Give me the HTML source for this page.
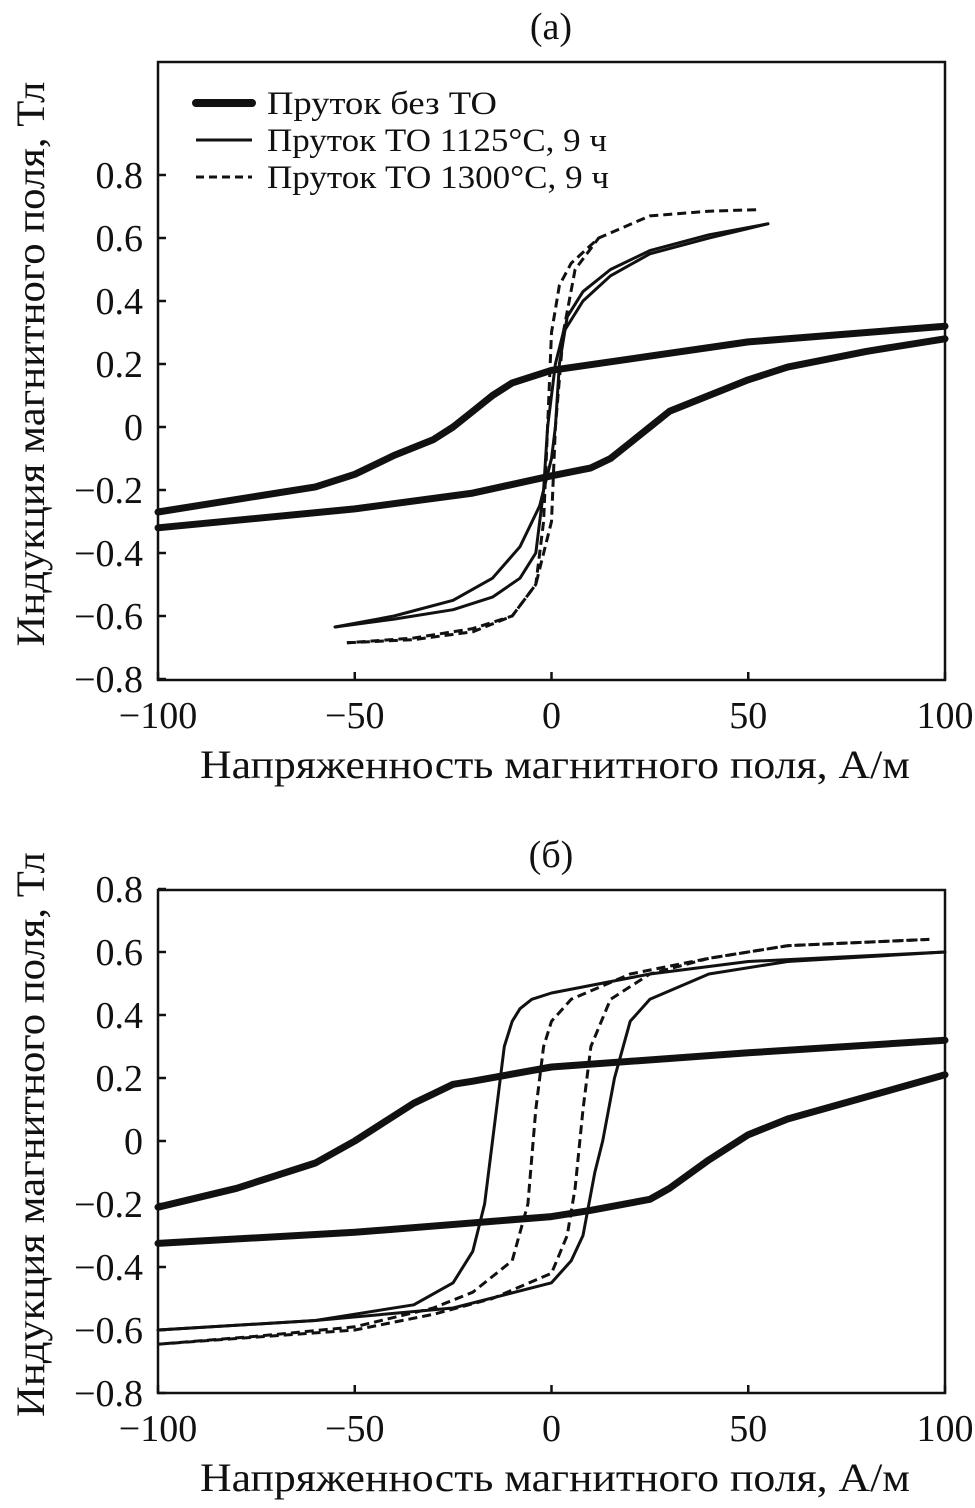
<!DOCTYPE html>
<html><head><meta charset="utf-8"><style>
body{margin:0;background:#fff}
svg text{font-family:"Liberation Serif",serif;fill:#111}
</style></head><body>
<svg id="c" width="975" height="1503" viewBox="0 0 975 1503" xmlns="http://www.w3.org/2000/svg"></svg>
<script>
const xTicks=[-100,-50,0,50,100];
const yTicks=[0.8,0.6,0.4,0.2,0,-0.2,-0.4,-0.6,-0.8];
const yTickLabels=["0.8","0.6","0.4","0.2","0","\u22120.2","\u22120.4","\u22120.6","\u22120.8"];
const xTickLabels=["\u2212100","\u221250","0","50","100"];
const legendLabels=["Пруток без ТО","Пруток ТО 1125°C, 9 ч","Пруток ТО 1300°C, 9 ч"];
// Panel (a)
const aNoTO=[[100,0.32],[50,0.27],[0,0.18],[-10,0.14],[-15,0.10],[-20,0.05],[-25,0.0],[-30,-0.04],[-40,-0.09],[-50,-0.15],[-60,-0.19],[-80,-0.23],[-100,-0.27]];
const aNoTOLow=[[-100,-0.32],[-50,-0.26],[-20,-0.21],[0,-0.155],[10,-0.13],[15,-0.10],[20,-0.05],[25,0.0],[30,0.05],[40,0.10],[50,0.15],[60,0.19],[80,0.24],[100,0.28]];
const a1125=[[55,0.645],[40,0.6],[25,0.55],[15,0.48],[8,0.4],[3,0.3],[1,0.2],[0,0.1],[-1,0],[-2,-0.2],[-4,-0.4],[-8,-0.48],[-15,-0.54],[-25,-0.58],[-40,-0.61],[-55,-0.635]];
const a1125Low=[[-55,-0.635],[-40,-0.6],[-25,-0.55],[-15,-0.48],[-8,-0.38],[-3,-0.25],[0,-0.1],[1,0],[2,0.2],[4,0.35],[8,0.43],[15,0.5],[25,0.56],[40,0.61],[55,0.645]];
const a1300=[[52,0.69],[40,0.685],[25,0.67],[12,0.6],[5,0.52],[2,0.45],[0,0.3],[-1,0],[-2,-0.3],[-4,-0.5],[-10,-0.6],[-20,-0.64],[-35,-0.67],[-52,-0.685]];
const a1300Low=[[-52,-0.685],[-35,-0.675],[-20,-0.65],[-10,-0.6],[-4,-0.5],[0,-0.3],[1,0],[3,0.3],[6,0.5],[12,0.6]];
// Panel (b)
const bNoTO=[[100,0.32],[50,0.28],[0,0.235],[-20,0.19],[-25,0.18],[-30,0.15],[-35,0.12],[-40,0.08],[-50,0.0],[-60,-0.07],[-80,-0.15],[-100,-0.21]];
const bNoTOLow=[[-100,-0.325],[-50,-0.29],[0,-0.24],[10,-0.22],[25,-0.185],[30,-0.15],[40,-0.06],[50,0.02],[60,0.07],[80,0.14],[100,0.21]];
const b1125=[[100,0.6],[50,0.57],[25,0.53],[0,0.47],[-5,0.45],[-8,0.42],[-10,0.38],[-12,0.3],[-15,0.0],[-17,-0.2],[-20,-0.35],[-25,-0.45],[-35,-0.52],[-60,-0.57],[-100,-0.6]];
const b1125Low=[[-100,-0.6],[-60,-0.57],[-25,-0.53],[0,-0.45],[5,-0.38],[8,-0.3],[11,-0.1],[13,0.0],[16,0.2],[20,0.38],[25,0.45],[40,0.53],[60,0.57],[100,0.6]];
const b1300=[[96,0.64],[60,0.62],[40,0.58],[20,0.53],[5,0.45],[0,0.38],[-2,0.3],[-4,0.1],[-6,-0.2],[-10,-0.38],[-20,-0.48],[-30,-0.53],[-50,-0.59],[-75,-0.62],[-100,-0.645]];
const b1300Low=[[-100,-0.645],[-50,-0.6],[-30,-0.55],[-15,-0.5],[0,-0.42],[4,-0.3],[6,-0.15],[8,0.1],[10,0.3],[15,0.45],[25,0.53],[40,0.58],[60,0.62],[96,0.64]];

const svg=document.getElementById('c');
const NS='http://www.w3.org/2000/svg';
function mk(tag,attrs,parent){const e=document.createElementNS(NS,tag);for(const k in attrs)e.setAttribute(k,attrs[k]);(parent||svg).appendChild(e);return e;}
const X0=158,X1=945;
function xs(v){return X0+(v+100)/200*(X1-X0);}
function panel(key,title,top,zeroY,bottomY,series){
  const ys=v=>zeroY-v*315;
  const g=mk('g',{});
  
  
  const t=mk('text',{x:551,y:top-23,'font-size':38,'text-anchor':'middle'},g);t.textContent=title;
  
  
  const fr=mk('rect',{x:X0,y:top,width:X1-X0,height:bottomY-top,fill:'none',stroke:'#111','stroke-width':2.5},g);
  
  
  yTicks.forEach((v,i)=>{const y=ys(v);
    mk('line',{x1:X0,x2:X0+8,y1:y,y2:y,stroke:'#111','stroke-width':2.5},g);
    const l=mk('text',{x:143,y:y+13,'font-size':38,'text-anchor':'end'},g);l.textContent=yTickLabels[i];
    
    });
  xTicks.forEach((v,i)=>{const x=xs(v);
    mk('line',{x1:x,x2:x,y1:bottomY,y2:bottomY-8,stroke:'#111','stroke-width':2.5},g);
    const l=mk('text',{x:x,y:bottomY+48,'font-size':38,'text-anchor':'middle'},g);l.textContent=xTickLabels[i];
    
    });
  const xt=mk('text',{x:555,y:bottomY+98,'font-size':40,'text-anchor':'middle',textLength:710,lengthAdjust:'spacingAndGlyphs'},g);xt.textContent='Напряженность магнитного поля, А/м';
  
  
  const cy=(top+bottomY)/2-7;
  const yt=mk('text',{x:0,y:0,'font-size':40,'text-anchor':'middle',textLength:565,lengthAdjust:'spacingAndGlyphs',transform:`translate(44,${cy}) rotate(-90)`},g);yt.textContent='Индукция магнитного поля, Тл';
  
  
  series.forEach(s=>{
    const d=s.pts.map((p,i)=>(i?'L':'M')+xs(p[0]).toFixed(1)+','+ys(p[1]).toFixed(1)).join(' ');
    const a={d:d,fill:'none',stroke:'#111','stroke-width':s.w,'stroke-linejoin':'round','stroke-linecap':'round'};
    if(s.dash)a['stroke-dasharray']='9 5',a['stroke-linecap']='butt';
    const p=mk('path',a,g);
    
    
  });
}
panel('a','(а)',62,427,680,[
 {pts:aNoTO,w:7,name:'curve-no-to-upper'},{pts:aNoTOLow,w:7,name:'curve-no-to-lower'},
 {pts:a1125,w:3,name:'curve-1125-upper'},{pts:a1125Low,w:3,name:'curve-1125-lower'},
 {pts:a1300,w:3,dash:1,name:'curve-1300-upper'},{pts:a1300Low,w:3,dash:1,name:'curve-1300-lower'}]);
panel('b','(б)',890,1141,1393,[
 {pts:bNoTO,w:7,name:'curve-no-to-upper'},{pts:bNoTOLow,w:7,name:'curve-no-to-lower'},
 {pts:b1125,w:3,name:'curve-1125-upper'},{pts:b1125Low,w:3,name:'curve-1125-lower'},
 {pts:b1300,w:3,dash:1,name:'curve-1300-upper'},{pts:b1300Low,w:3,dash:1,name:'curve-1300-lower'}]);
// legend
const lg=mk('g',{});


const styles=[{w:8},{w:3},{w:3,dash:1}];
const legLen=[230,340,342];
legendLabels.forEach((txt,i)=>{const y=103+i*37;
  const a={x1:196,x2:252,y1:y,y2:y,stroke:'#111','stroke-width':styles[i].w,'stroke-linecap':i==0?'round':'butt'};
  if(styles[i].dash)a['stroke-dasharray']='8 5';
  mk('line',a,lg);
  const t=mk('text',{x:267,y:y+11,'font-size':33,textLength:legLen[i],lengthAdjust:'spacingAndGlyphs'},lg);t.textContent=txt;
  
  });
</script>
</body></html>
